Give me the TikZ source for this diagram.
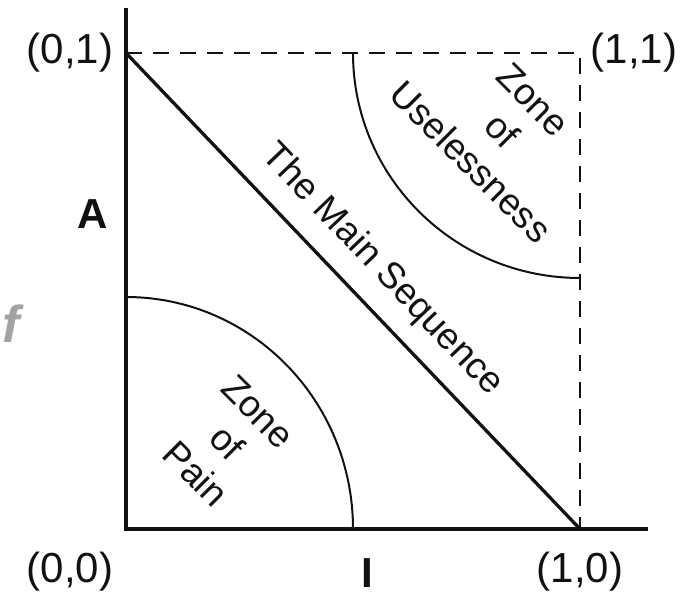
\documentclass[tikz,border=0pt]{standalone}
\usepackage{fontspec}
\setmainfont{Liberation Sans}
\usetikzlibrary{positioning,calc}
\definecolor{inkblack}{HTML}{111111}
\definecolor{markgray}{HTML}{A3A3A3}
\tikzset{
  axisline/.style={line width=3.5pt, draw=inkblack},
  boxline/.style={line width=2.6pt, draw=inkblack, dash pattern=on 16pt off 11pt},
  seqline/.style={line width=3.3pt, draw=inkblack},
  zonearc/.style={line width=2pt, draw=inkblack},
  cornerlabel/.style={font=\fontsize{42}{50}\selectfont, inner sep=0pt, text=inkblack},
  axislabel/.style={font=\fontsize{42}{50}\selectfont\bfseries, inner sep=0pt, text=inkblack},
  zonetext/.style={font=\fontsize{37}{44}\selectfont, align=center, inner sep=0pt, text=inkblack, rotate=-45}
}

\begin{document}
\begin{tikzpicture}[x=1pt,y=1pt]
  \useasboundingbox (-126,-67) rectangle (572,529);
  \coordinate (origin) at (0,0);
  \coordinate (topleft) at (0,476);
  \coordinate (topright) at (454,476);
  \coordinate (bottomright) at (454,0);
  \coordinate (yend) at (0,521);
  \coordinate (xend) at (522,0);

  % dashed limits of the unit square
  \draw[boxline] (topleft) -- (topright) -- (bottomright);
  % the two zones
  \draw[zonearc] (227,0) arc[start angle=0, end angle=90, x radius=227, y radius=232];
  \draw[zonearc] (227,476) arc[start angle=180, end angle=270, x radius=227, y radius=225];
  % main sequence
  \draw[seqline] (topleft) -- (bottomright);
  % axes
  \draw[axisline] (yend) -- (origin) -- (xend);

  \node[cornerlabel] (lab01) at (-56,476) {(0,1)};
  \node[cornerlabel] (lab11) at (508,476) {(1,1)};
  \node[cornerlabel] (lab00) at (-56,-43) {(0,0)};
  \node[cornerlabel] (lab10) at (454,-43) {(1,0)};
  \node[axislabel] (labA) at (-33,315) {A};
  \node[axislabel] (labI) at (241,-44) {I};

  \node[zonetext] (pain) at (101,86) {Zone\\of\\Pain};
  \node[zonetext] (useless) at (376,398) {Zone\\of\\Uselessness};
  \node[zonetext, rotate=-1.36] (mainseq) at (256,259) {The Main Sequence};

  \node[font=\fontsize{52}{60}\selectfont\bfseries\itshape, text=markgray, anchor=east, inner sep=0pt] (mark) at (-106,205) {f};
\end{tikzpicture}
\end{document}
